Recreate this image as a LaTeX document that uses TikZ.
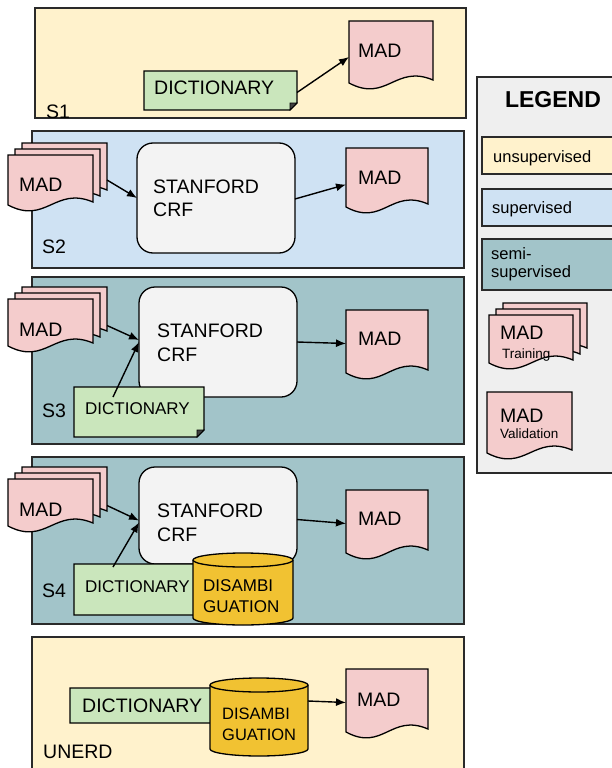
\documentclass[tikz,border=0pt]{standalone}
\usepackage{fontspec}
\setmainfont{Liberation Sans}
\usetikzlibrary{arrows.meta,calc}
\definecolor{cream}{HTML}{FFF2CC}
\definecolor{sblue}{HTML}{CFE2F3}
\definecolor{semiteal}{HTML}{A2C4C9}
\definecolor{pinkdoc}{HTML}{F4CCCC}
\definecolor{greendict}{HTML}{CAE6BC}
\definecolor{golden}{HTML}{F1C232}
\definecolor{crfgray}{HTML}{F3F3F3}
\definecolor{legbg}{HTML}{EFEFEF}
\definecolor{edgegray}{HTML}{2A2A2A}
\tikzset{
  panel/.style={draw=edgegray, line width=1.6pt, anchor=north west, inner sep=0pt, outer sep=0pt},
  geo/.style={draw=none, inner sep=0pt, outer sep=0pt, anchor=north west},
  shp/.style={draw=black, line width=1.3pt},
  crfbox/.style={draw=black, line width=1.3pt, fill=crfgray, rounded corners=16pt, anchor=north west, inner sep=0pt, outer sep=0pt},
  txt/.style={inner sep=0pt, anchor=base west, font=\fontsize{19.5}{23}\selectfont},
  txtm/.style={inner sep=0pt, anchor=base west, font=\fontsize{17}{21}\selectfont},
  txts/.style={inner sep=0pt, anchor=base west, font=\fontsize{16.5}{20}\selectfont},
  txtxs/.style={inner sep=0pt, anchor=base west, font=\fontsize{13.5}{16}\selectfont},
  conn/.style={-{Latex[length=10pt,width=8pt]}, line width=1.4pt, black},
}
% document page outline: L T W H fill
\newcommand{\mkdocraw}[5]{%
  \filldraw[shp, fill=#5] (#1,#2) -- (#1+#3,#2) -- (#1+#3,#2+#4-3)
    .. controls (#1+0.55*#3,#2+#4-19) and (#1+0.45*#3,#2+#4+20) .. (#1,#2+#4) -- cycle;}
\newcommand{\mkdoc}[5]{% name L T W H
  \mkdocraw{#2}{#3}{#4}{#5}{pinkdoc}
  \node[geo, minimum width=#4, minimum height=#5] (#1) at (#2,#3) {};}
\newcommand{\mkstack}[5]{% name L T W H (front page)
  \mkdocraw{#2+14}{#3-12}{#4}{#5}{pinkdoc}
  \mkdocraw{#2+7}{#3-6}{#4}{#5}{pinkdoc}
  \mkdocraw{#2}{#3}{#4}{#5}{pinkdoc}
  \node[geo, minimum width=#4+14, minimum height=#5+12] (#1) at (#2,#3-12) {};}
\newcommand{\mkcard}[5]{% name L T W H
  \filldraw[shp, fill=greendict] (#2,#3) -- (#2+#4,#3) -- (#2+#4,#3+#5-7) -- (#2+#4-7,#3+#5) -- (#2,#3+#5) -- cycle;
  \filldraw[draw=black, line width=0.8pt, fill=black!75] (#2+#4,#3+#5-7) -- (#2+#4-7,#3+#5) -- (#2+#4-7,#3+#5-7) -- cycle;
  \node[geo, minimum width=#4, minimum height=#5] (#1) at (#2,#3) {};}
\newcommand{\mkcyl}[5]{% name L T W H
  \filldraw[shp, fill=golden] (#2,#3+7) -- (#2,#3+#5-7)
     arc[start angle=180, end angle=0, x radius=#4/2, y radius=7] -- (#2+#4,#3+7)
     arc[start angle=0, end angle=-180, x radius=#4/2, y radius=7] -- cycle;
  \draw[shp] (#2,#3+7) arc[start angle=180, end angle=0, x radius=#4/2, y radius=7];
  \node[geo, minimum width=#4, minimum height=#5] (#1) at (#2,#3) {};}
\begin{document}
\begin{tikzpicture}[x=1pt,y=-1pt]
\useasboundingbox (0,0) rectangle (612,768);
% ---------- panels ----------
\node[panel, fill=cream, minimum width=431, minimum height=110] (p1) at (35,8) {};
\node[panel, fill=sblue, minimum width=432, minimum height=137] (p2) at (32,131) {};
\node[panel, fill=semiteal, minimum width=432, minimum height=167] (p3) at (32,277) {};
\node[panel, fill=semiteal, minimum width=432, minimum height=167] (p4) at (32,457) {};
\node[panel, fill=cream, minimum width=432, minimum height=150] (p5) at (32,637) {};
\node[panel, fill=legbg, minimum width=150, minimum height=396] (pleg) at (477,77) {};
\node[panel, fill=cream, minimum width=140, minimum height=37] (lg1) at (482,137) {};
\node[panel, fill=sblue, minimum width=140, minimum height=37] (lg2) at (482,189) {};
\node[panel, fill=semiteal, minimum width=140, minimum height=51] (lg3) at (482,239) {};
% ---------- S1 ----------
\mkcard{s1dict}{144}{71}{153}{39}
\mkdoc{s1mad}{349}{21}{84}{62}
% ---------- S2 ----------
\mkstack{s2stack}{8}{155}{85}{50}
\node[crfbox, minimum width=158, minimum height=110] (s2crf) at (137,143) {};
\mkdoc{s2mad}{346}{148}{82}{59}
% ---------- S3 ----------
\mkstack{s3stack}{8}{299}{85}{47}
\node[crfbox, minimum width=158, minimum height=110] (s3crf) at (139,287) {};
\mkdoc{s3mad}{346}{310}{82}{63}
\mkcard{s3dict}{74}{387}{130}{50}
% ---------- S4 ----------
\mkstack{s4stack}{8}{479}{85}{47}
\node[crfbox, minimum width=158, minimum height=97] (s4crf) at (139,467) {};
\mkdoc{s4mad}{346}{490}{82}{63}
\mkcard{s4dict}{74}{564}{130}{51}
\mkcyl{s4cyl}{193}{553}{100}{72}
% ---------- UNERD ----------
\mkcard{s5dict}{70}{688}{150}{35}
\mkcyl{s5cyl}{210}{678}{98}{78}
\mkdoc{s5mad}{346}{669}{82}{63}
% ---------- legend shapes ----------
\mkstack{lgstack}{489}{315}{84}{48}
\mkdoc{lgval}{487}{392}{85}{61}
% ---------- connectors ----------
\draw[conn] ($(s1dict.east)+(0,2)$) -- ($(s1mad.west)+(0,5)$);
\draw[conn] ($(s2stack.east)+(0,6)$) -- (s2crf.west);
\draw[conn] ($(s2crf.east)+(0,1)$) -- ($(s2mad.west)+(0,7)$);
\draw[conn] ($(s3stack.east)+(0,9)$) -- ($(s3crf.west)+(0,-2)$);
\draw[conn] ($(s3dict.north west)+(39,10)$) -- (s3crf.west);
\draw[conn] (s3crf.east) -- ($(s3mad.west)+(0,2)$);
\draw[conn] ($(s4stack.east)+(0,9)$) -- ($(s4crf.west)+(0,5)$);
\draw[conn] ($(s4dict.north west)+(39,3)$) -- ($(s4crf.west)+(0,7)$);
\draw[conn] ($(s4crf.east)+(0,4)$) -- ($(s4mad.west)+(0,2)$);
\draw[conn] ($(s5cyl.east)+(0,-16)$) -- ($(s5mad.west)+(0,2)$);
% ---------- texts ----------
\node[txt] (t1mad) at (358,57) {MAD};
\node[txt] (t1dict) at (154,94) {DICTIONARY};
\begin{scope}
  \clip (35,8) rectangle (466,117.5);
  \node[txt] (t1lab) at (46,118.5) {S1};
\end{scope}
\node[txt] (t2mad) at (19,191) {MAD};
\node[txt] (t2crfa) at (153,193) {STANFORD};
\node[txt] (t2crfb) at (153,216) {CRF};
\node[txt] (t2out) at (358,184) {MAD};
\node[txt] (t2lab) at (42,253) {S2};
\node[txt] (t3mad) at (19,336) {MAD};
\node[txt] (t3crfa) at (157,337) {STANFORD};
\node[txt] (t3crfb) at (157,361) {CRF};
\node[txt] (t3out) at (358,345) {MAD};
\node[txtm] (t3dict) at (85,414) {DICTIONARY};
\node[txt] (t3lab) at (42,417) {S3};
\node[txt] (t4mad) at (19,516) {MAD};
\node[txt] (t4crfa) at (157,517) {STANFORD};
\node[txt] (t4crfb) at (157,541) {CRF};
\node[txt] (t4out) at (358,525) {MAD};
\node[txtm] (t4dict) at (85,592) {DICTIONARY};
\node[txtm] (t4cyla) at (203,591) {DISAMBI};
\node[txtm] (t4cylb) at (203,612) {GUATION};
\node[txt] (t4lab) at (42,597) {S4};
\node[txt] (t5dict) at (82,712) {DICTIONARY};
\node[txts] (t5cyla) at (222,719) {DISAMBI};
\node[txts] (t5cylb) at (222,740) {GUATION};
\node[txt] (t5out) at (357,706) {MAD};
\node[txt] (t5lab) at (43,758) {UNERD};
% legend texts
\node[inner sep=0pt, anchor=base, font=\fontsize{23}{27}\selectfont\bfseries] (tleg) at (553,107) {LEGEND};
\node[txts] (tl1) at (493,162) {unsupervised};
\node[txts] (tl2) at (492,213) {supervised};
\node[txts] (tl3a) at (491,259) {semi-};
\node[txts] (tl3b) at (491,277) {supervised};
\node[txt] (tl4a) at (500,339) {MAD};
\node[txtxs] (tl4b) at (502,358) {Training};
\node[txt] (tl5a) at (500,422) {MAD};
\node[txtxs] (tl5b) at (500,438) {Validation};
\end{tikzpicture}
\end{document}
